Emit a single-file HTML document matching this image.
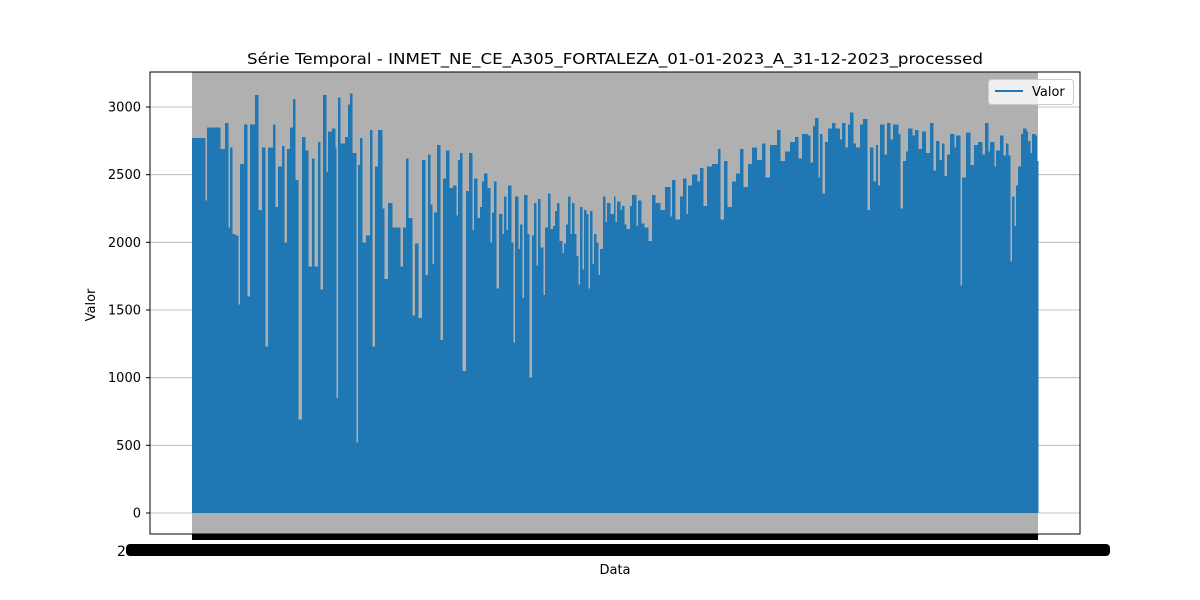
<!DOCTYPE html>
<html><head><meta charset="utf-8"><style>
html,body{margin:0;padding:0;background:#fff;width:1200px;height:600px;overflow:hidden}
svg text{font-family:"DejaVu Sans","Liberation Sans",sans-serif}
</style></head><body>
<svg id="chart" width="1200" height="600" viewBox="0 0 1200 600" xmlns="http://www.w3.org/2000/svg">
<rect width="1200" height="600" fill="#fff"/>
<text x="615" y="64" font-size="15" text-anchor="middle" textLength="736" lengthAdjust="spacingAndGlyphs">Série Temporal - INMET_NE_CE_A305_FORTALEZA_01-01-2023_A_31-12-2023_processed</text>
<g id="grid"></g>
<g id="plot"></g>
<rect x="150" y="72" width="930" height="462" fill="none" stroke="#000" stroke-width="1"/>
<g id="yaxis"></g>
<rect x="192" y="534" width="846" height="6" fill="#000"/>
<text x="117" y="556" font-size="14">2</text>
<rect x="126" y="544" width="984" height="12" rx="4" fill="#000"/>
<text x="615" y="574" font-size="13" text-anchor="middle">Data</text>
<text x="95" y="305" font-size="13" text-anchor="middle" transform="rotate(-90 95 305)">Valor</text>
<g>
<rect x="988.5" y="79.5" width="85" height="25" rx="3" fill="#fff" fill-opacity="0.8" stroke="#ccc"/>
<line x1="995" y1="91" x2="1023" y2="91" stroke="#1f77b4" stroke-width="2"/>
<text x="1032" y="96" font-size="13">Valor</text>
</g>
</svg>
<script>
const yTicks=[0,500,1000,1500,2000,2500,3000];
const days=[0,5.6,6.5,12.1,14.2,15.5,16.4,17.3,18.5,19.8,20.7,22.4,23.7,25.0,27.2,28.5,30.2,31.5,32.8,34.9,35.8,37.1,38.8,39.7,41.0,42.3,43.6,44.4,45.7,47.5,48.7,50.0,51.8,52.6,54.4,55.2,56.5,57.8,58.7,60.4,61.7,62.1,63.0,63.8,66.0,67.3,68.2,69.0,70.8,71.6,72.5,73.3,75.1,76.8,77.7,78.9,80.2,82.0,82.8,84.6,86.3,89.7,91.0,92.3,93.2,94.9,96.2,97.5,99.2,100.5,101.8,102.7,103.5,104.4,105.7,107.0,108.3,109.6,110.9,112.6,113.9,114.8,115.6,116.5,118.2,119.5,120.8,121.7,122.9,124.2,125.1,126.0,127.3,128.6,129.4,130.3,131.1,132.4,133.7,134.6,135.5,136.3,137.6,138.5,139.3,140.6,141.5,142.4,143.2,144.5,145.4,146.7,147.5,148.4,149.3,150.1,151.4,152.3,153.6,154.4,155.7,156.6,157.5,158.3,159.6,160.5,161.3,162.2,163.1,163.9,164.8,165.7,166.5,167.4,168.2,169.1,170.0,170.8,171.7,172.6,173.4,174.3,175.2,176.0,177.3,178.2,179.0,180.3,182.1,182.5,183.4,184.6,185.5,186.4,187.2,189.0,189.8,191.5,192.4,193.7,195.0,196.7,198.4,199.7,201.9,204.1,206.2,207.1,208.4,210.5,211.8,213.1,214.0,215.7,217.9,219.2,220.5,222.2,224.3,226.9,227.8,229.5,230.8,233.0,234.7,236.4,237.7,239.9,241.6,243.7,245.9,247.2,249.4,252.4,253.7,255.8,258.0,260.1,261.4,263.2,265.7,266.6,267.9,268.8,270.1,270.9,271.8,273.1,274.4,276.1,277.4,279.5,280.4,281.7,283.0,283.9,285.2,286.4,288.2,289.5,291.2,292.5,293.8,295.1,295.9,296.8,298.5,299.8,301.1,302.4,304.6,305.4,306.7,308.0,308.9,310.6,311.9,313.2,314.9,316.6,318.4,319.7,320.9,322.3,323.6,324.4,325.7,327.0,328.7,329.6,331.3,332.2,333.9,335.6,337.4,339.1,340.8,342.1,343.4,344.3,346.0,346.8,348.6,349.9,351.2,352.0,352.9,353.7,354.6,355.5,356.3,357.6,358.5,359.8,360.6,361.5,362.4,363.7,364.5];
const values=[2770,2310,2850,2690,2880,2110,2700,2060,2050,1540,2580,2870,1600,2870,3090,2240,2700,1230,2700,2870,2260,2560,2710,2000,2690,2850,3060,2460,690,2780,2680,1820,2620,1820,2740,1650,3090,2520,2820,2840,2700,850,3070,2730,2780,3020,3100,2660,520,2570,2770,2000,2050,2830,1230,2560,2830,2250,1730,2290,2110,1820,2110,2620,2180,1460,1990,1440,2610,1760,2650,2280,1840,2220,2720,1280,2470,2680,2400,2420,2200,2610,2660,1050,2380,2660,2090,2470,2180,2260,2450,2510,2400,2000,2220,2450,1660,2210,2060,2340,2090,2420,2000,1260,2340,1950,2130,1590,2350,2060,1000,2050,2290,1830,2320,1960,1610,2110,2360,2100,2120,2230,2290,2010,1920,1990,2130,2340,2060,2290,2060,1900,1690,2260,1800,2240,2210,1660,2230,1840,2060,2000,1760,1950,2340,2150,2290,2210,2340,2150,2300,2240,2270,2130,2100,2270,2350,2120,2310,2140,2110,2010,2350,2290,2240,2410,2190,2460,2170,2340,2470,2210,2420,2500,2450,2550,2270,2560,2580,2690,2170,2600,2260,2450,2510,2690,2410,2580,2700,2610,2730,2480,2720,2830,2600,2670,2740,2780,2620,2800,2790,2590,2860,2920,2480,2800,2360,2740,2840,2880,2840,2760,2880,2700,2870,2960,2730,2700,2870,2910,2240,2700,2450,2720,2420,2870,2650,2880,2760,2870,2800,2250,2600,2670,2840,2790,2830,2690,2820,2660,2880,2530,2750,2610,2730,2490,2650,2800,2700,2790,1680,2480,2810,2570,2720,2740,2650,2880,2670,2740,2560,2680,2790,2640,2730,2640,1860,2340,2120,2420,2560,2800,2840,2820,2750,2660,2800,2790,2600];
const X0=192,X1=1038,DMAX=365;
const Y0=513,K=406/3000;
function xs(d){return X0+(d/DMAX)*(X1-X0);}
function ys(v){return Y0-v*K;}
const NS='http://www.w3.org/2000/svg';
const grid=document.getElementById('grid'),plot=document.getElementById('plot'),yax=document.getElementById('yaxis');
yTicks.forEach(t=>{
  const l=document.createElementNS(NS,'line');
  l.setAttribute('x1',150);l.setAttribute('x2',1080);l.setAttribute('y1',ys(t));l.setAttribute('y2',ys(t));
  l.setAttribute('stroke','#b0b0b0');l.setAttribute('stroke-width','0.8');
  
  
  grid.appendChild(l);
  const tk=document.createElementNS(NS,'line');
  tk.setAttribute('x1',146);tk.setAttribute('x2',150);tk.setAttribute('y1',ys(t));tk.setAttribute('y2',ys(t));
  tk.setAttribute('stroke','#000');
  
  
  yax.appendChild(tk);
  const tx=document.createElementNS(NS,'text');
  tx.setAttribute('x',141);tx.setAttribute('y',ys(t)+4.5);tx.setAttribute('text-anchor','end');tx.setAttribute('font-size','13');
  tx.textContent=t;
  
  
  yax.appendChild(tx);
});
const bg=document.createElementNS(NS,'rect');
bg.setAttribute('x',xs(0));bg.setAttribute('y',72);bg.setAttribute('width',xs(DMAX)-xs(0));bg.setAttribute('height',462);bg.setAttribute('fill','#b0b0b0');


plot.appendChild(bg);
for(let i=0;i<days.length;i++){
  const d1=i+1<days.length?days[i+1]:DMAX;
  const x=xs(days[i]),w=Math.max(xs(d1)-x+0.4,1);
  const r=document.createElementNS(NS,'rect');
  r.setAttribute('x',x);r.setAttribute('y',ys(values[i]));r.setAttribute('width',w);r.setAttribute('height',ys(0)-ys(values[i]));
  r.setAttribute('fill','#1f77b4');r.setAttribute('shape-rendering','crispEdges');
  
  
  plot.appendChild(r);
}
</script>
</body></html>
